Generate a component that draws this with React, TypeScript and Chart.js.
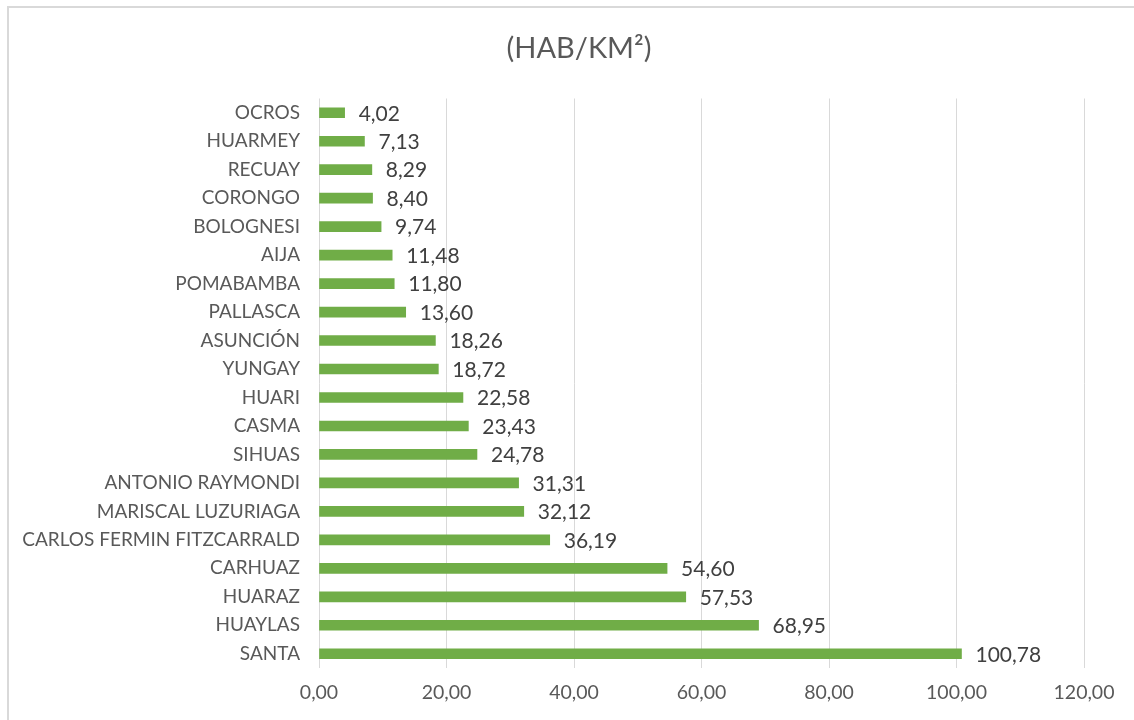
import React, { useEffect, useRef } from "react";
import { Chart, registerables } from "chart.js";

Chart.register(...registerables);

const categories = [
  "OCROS",
  "HUARMEY",
  "RECUAY",
  "CORONGO",
  "BOLOGNESI",
  "AIJA",
  "POMABAMBA",
  "PALLASCA",
  "ASUNCIÓN",
  "YUNGAY",
  "HUARI",
  "CASMA",
  "SIHUAS",
  "ANTONIO RAYMONDI",
  "MARISCAL LUZURIAGA",
  "CARLOS FERMIN FITZCARRALD",
  "CARHUAZ",
  "HUARAZ",
  "HUAYLAS",
  "SANTA",
];

const density = [
  4.02, 7.13, 8.29, 8.4, 9.74, 11.48, 11.8, 13.6, 18.26, 18.72, 22.58, 23.43,
  24.78, 31.31, 32.12, 36.19, 54.6, 57.53, 68.95, 100.78,
];

const xTicks = [0, 20, 40, 60, 80, 100, 120];

const titleText = "(HAB/KM²)";

const FONT = "Lato, 'Open Sans', sans-serif";

const fmt = (v: number) => v.toFixed(2).replace(".", ",");

const dataLabelPlugin = {
  id: "dataLabels",
  afterDatasetsDraw(chart: any) {
    const ctx = chart.ctx;
    const meta = chart.getDatasetMeta(0);
    ctx.save();
    ctx.font = `21px ${FONT}`;
    ctx.fillStyle = "#404040";
    ctx.textAlign = "left";
    ctx.textBaseline = "middle";
    meta.data.forEach((bar: any, i: number) => {
      ctx.fillText(fmt(density[i]), bar.x + 14, bar.y + 1);
    });
    ctx.restore();
  },
};

const titlePlugin = {
  id: "customTitle",
  afterDraw(chart: any) {
    const ctx = chart.ctx;
    ctx.save();
    ctx.font = `29px ${FONT}`;
    ctx.fillStyle = "#595959";
    ctx.textAlign = "center";
    ctx.textBaseline = "middle";
    ctx.fillText(titleText, 579, 49);
    ctx.restore();
  },
};

export default function App() {
  const canvasRef = useRef<HTMLCanvasElement>(null);

  useEffect(() => {
    const canvas = canvasRef.current;
    if (!canvas) return;
    const chart = new Chart(canvas, {
      type: "bar",
      data: {
        labels: categories,
        datasets: [
          {
            data: density,
            backgroundColor: "#70AD47",
            borderWidth: 0,
            barThickness: 10,
          },
        ],
      },
      options: {
        indexAxis: "y",
        animation: false,
        responsive: false,
        maintainAspectRatio: false,
        layout: { padding: { left: 0, right: 50, top: 98.5, bottom: 0 } },
        plugins: {
          legend: { display: false },
          tooltip: { enabled: false },
          title: { display: false },
        },
        scales: {
          x: {
            type: "linear",
            min: 0,
            max: 120,
            afterBuildTicks: (scale: any) => {
              scale.ticks = xTicks.map((v) => ({ value: v }));
            },
            afterFit: (scale: any) => {
              scale.height = 52;
            },
            grid: {
              color: "#d9d9d9",
              lineWidth: 1,
              drawTicks: false,
            },
            border: { display: false },
            ticks: {
              color: "#595959",
              font: { family: FONT, size: 19.5 },
              padding: 13,
              callback: (v: any) => fmt(Number(v)),
            },
          },
          y: {
            afterFit: (scale: any) => {
              scale.width = 319;
            },
            grid: { display: false, drawTicks: false },
            border: { display: false },
            ticks: {
              color: "#595959",
              font: { family: FONT, size: 19 },
              padding: 19,
              autoSkip: false,
            },
          },
        },
      },
      plugins: [dataLabelPlugin, titlePlugin],
    });
    return () => chart.destroy();
  }, []);

  return (
    <div
      style={{
        position: "fixed",
        left: 0,
        top: 0,
        width: 1134,
        height: 720,
        overflow: "hidden",
        background: "#ffffff",
      }}
    >
      <div
        style={{
          position: "absolute",
          left: 7,
          top: 6,
          width: 1200,
          height: 800,
          border: "2px solid #d9d9d9",
          boxSizing: "border-box",
        }}
      />
      <canvas
        ref={canvasRef}
        width={1134}
        height={720}
        style={{ position: "absolute", left: 0, top: 0, display: "block" }}
      />
    </div>
  );
}
